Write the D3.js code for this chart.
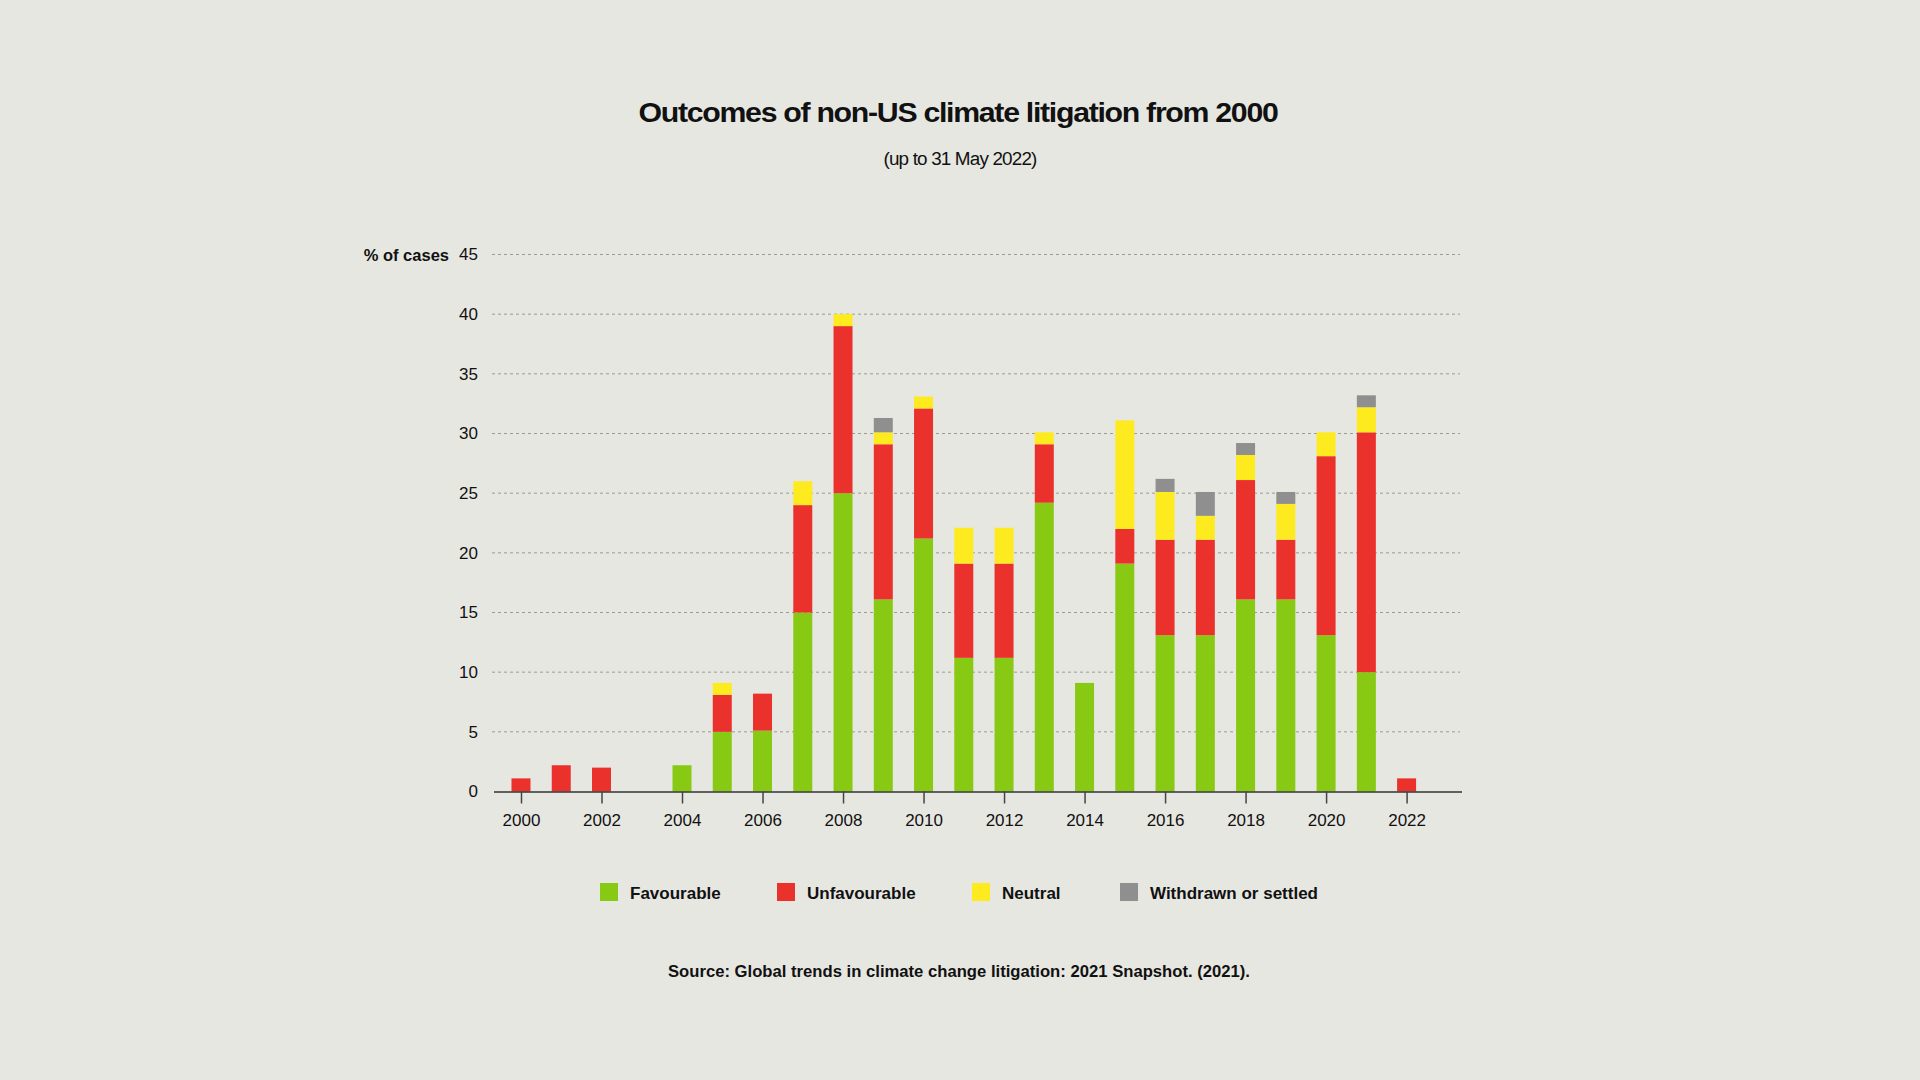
<!DOCTYPE html>
<html>
<head>
<meta charset="utf-8">
<script src="https://cdn.jsdelivr.net/npm/d3@7"></script>
<style>
  html, body { margin: 0; padding: 0; background: #e7e7e2; }
  svg { display: block; }
  text { font-family: "Liberation Sans", Arial, Helvetica, sans-serif; fill: #111; }
</style>
</head>
<body>
<svg id="chart" width="1920" height="1080"></svg>
<script>
// ---- data ----
const years = [2000,2001,2002,2003,2004,2005,2006,2007,2008,2009,2010,2011,2012,2013,2014,2015,2016,2017,2018,2019,2020,2021,2022];
const favourable   = [0,  0,  0,  0, 2.2, 5.0, 5.1, 15.0, 25.0, 16.1, 21.2, 11.2, 11.2, 24.2, 9.1, 19.1, 13.1, 13.1, 16.1, 16.1, 13.1, 10.0, 0];
const unfavourable = [1.1,2.2,2.0,0, 0,   3.1, 3.1, 9.0,  14.0, 13.0, 10.9, 7.9,  7.9,  4.9,  0,   2.9,  8.0,  8.0,  10.0, 5.0,  15.0, 20.1, 1.1];
const neutral      = [0,  0,  0,  0, 0,   1.0, 0,   2.0,  1.0,  1.0,  1.0,  3.0,  3.0,  1.0,  0,   9.1,  4.0,  2.0,  2.1,  3.0,  2.0,  2.1,  0];
const withdrawn    = [0,  0,  0,  0, 0,   0,   0,   0,    0,    1.2,  0,    0,    0,    0,    0,   0,    1.1,  2.0,  1.0,  1.0,  0,    1.0,  0];
const seriesNames  = ["Favourable","Unfavourable","Neutral","Withdrawn or settled"];
const seriesColors = ["#88c914","#eb312c","#fdea1f","#8f8f8f"];
const yTicks = [0,5,10,15,20,25,30,35,40,45];
const xTicks = [2000,2002,2004,2006,2008,2010,2012,2014,2016,2018,2020,2022];

const svg = d3.select("#chart");

// background
svg.append("rect").attr("width",1920).attr("height",1080).attr("fill","#e7e7e2");

// scales
const x = d3.scaleLinear().domain([1999.317, 2023.364]).range([493.5, 1461.5]);
const y = d3.scaleLinear().domain([0,45]).range([791.5, 254.5]);
const barW = 19;

// gridlines
svg.append("g").selectAll("line")
  .data(yTicks.filter(d => d > 0))
  .join("line")
  .attr("x1", 492).attr("x2", 1460)
  .attr("y1", d => y(d)).attr("y2", d => y(d))
  .attr("stroke", "#9a9a96").attr("stroke-width", 1)
  .attr("stroke-dasharray", "3,3");

// stacked data
const rows = years.map((yr,i) => ({
  year: yr,
  "Favourable": favourable[i],
  "Unfavourable": unfavourable[i],
  "Neutral": neutral[i],
  "Withdrawn or settled": withdrawn[i]
}));
const stack = d3.stack().keys(seriesNames)(rows);
const color = d3.scaleOrdinal().domain(seriesNames).range(seriesColors);

svg.append("g").selectAll("g")
  .data(stack)
  .join("g")
  .attr("fill", d => color(d.key))
  .selectAll("rect")
  .data(d => d.filter(p => p[1] - p[0] > 0))
  .join("rect")
  .attr("x", d => x(d.data.year) - barW/2)
  .attr("width", barW)
  .attr("y", d => y(d[1]))
  .attr("height", d => y(d[0]) - y(d[1]));

// x axis
const xAxis = svg.append("g")
  .attr("transform", `translate(0,${y(0)})`)
  .call(d3.axisBottom(x).tickValues(xTicks).tickFormat(d3.format("d")).tickSize(12).tickSizeOuter(0).tickPadding(10));
xAxis.select(".domain").attr("stroke", "#333").attr("stroke-width", 1.6);
xAxis.selectAll(".tick line").attr("stroke", "#444").attr("stroke-width", 1.5);
xAxis.selectAll(".tick text")
  .attr("font-family", "Liberation Sans, Arial, sans-serif")
  .attr("font-size", 17).attr("fill", "#111");

// y axis labels
const yAxis = svg.append("g")
  .attr("transform", `translate(478,0)`)
  .call(d3.axisLeft(y).tickValues(yTicks).tickSize(0).tickPadding(0));
yAxis.select(".domain").remove();
yAxis.selectAll(".tick text")
  .attr("font-family", "Liberation Sans, Arial, sans-serif")
  .attr("font-size", 17).attr("fill", "#111");

// y label
svg.append("text")
  .attr("x", 449).attr("y", 261)
  .attr("text-anchor", "end")
  .attr("font-size", 16.5).attr("font-weight", "bold")
  .text("% of cases");

// title
svg.append("text")
  .attr("x", 958).attr("y", 122)
  .attr("text-anchor", "middle")
  .attr("font-size", 28).attr("font-weight", "bold")
  .attr("textLength", 639).attr("lengthAdjust", "spacingAndGlyphs")
  .style("letter-spacing", "-1.2px")
  .text("Outcomes of non-US climate litigation from 2000");

// subtitle
svg.append("text")
  .attr("x", 960).attr("y", 165)
  .attr("text-anchor", "middle")
  .attr("font-size", 18)
  .attr("textLength", 153).attr("lengthAdjust", "spacingAndGlyphs")
  .style("letter-spacing", "-0.8px")
  .text("(up to 31 May 2022)");

// legend
const legendX = [600, 777, 972, 1120];
const lg = svg.append("g").selectAll("g")
  .data(seriesNames)
  .join("g")
  .attr("transform", (d,i) => `translate(${legendX[i]},883)`);
lg.append("rect").attr("width", 18).attr("height", 18).attr("fill", d => color(d));
lg.append("text").attr("x", 30).attr("y", 16)
  .attr("font-size", 17).attr("font-weight", "bold")
  .text(d => d);

// source
svg.append("text")
  .attr("x", 959).attr("y", 977)
  .attr("text-anchor", "middle")
  .attr("font-size", 16.5).attr("font-weight", "bold")
  .attr("textLength", 582).attr("lengthAdjust", "spacingAndGlyphs")
  .text("Source: Global trends in climate change litigation: 2021 Snapshot. (2021).");
</script>
</body>
</html>
